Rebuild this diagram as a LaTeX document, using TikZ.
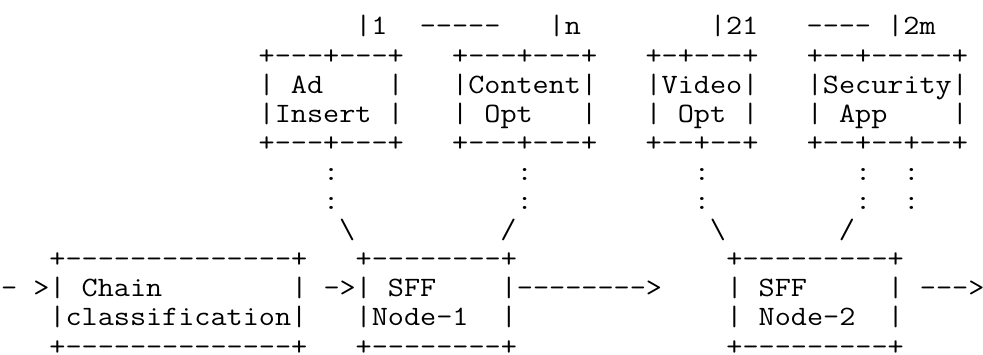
\documentclass[tikz,border=0pt]{standalone}
\usepackage{fontspec}
\usepackage{graphicx}
\usepackage{tikz}
\tikzset{   asciiline/.style = {anchor = base west, inner sep = 0pt, text = black,
                                font = \ttfamily\fontsize{28pt}{29.1pt}\selectfont}}
% widen the typewriter cells to the column pitch
\newcommand{\cells}[1]{\scalebox{1.1179}[1]{#1}}

\begin{document}
\begin{tikzpicture}[x=16.1pt, y=-29.1pt]
  % one unit = one character cell: (column, line)
  \useasboundingbox (-0.056,-0.202) rectangle (61.0,11.963);
  % service functions and their instances
  \node[asciiline] (index)    at (22,1) {\cells{|1~~-----~~~|n~~~~~~~~|21~~~----~|2m}};
  \node[asciiline] (sftop)    at (16,2) {\cells{+---+---+~~~+---+---+~~~+-+---+~~~+--+-----+}};
  \node[asciiline] (sfname)   at (16,3) {\cells{|~Ad~~~~|~~~|Content|~~~|Video|~~~|Security|}};
  \node[asciiline] (sfsub)    at (16,4) {\cells{|Insert~|~~~|~Opt~~~|~~~|~Opt~|~~~|~App~~~~|}};
  \node[asciiline] (sfbottom) at (16,5) {\cells{+---+---+~~~+---+---+~~~+--+--+~~~+--+--+--+}};
  % attachment to the forwarders
  \node[asciiline] (dotsa)    at (20,6) {\cells{:~~~~~~~~~~~:~~~~~~~~~~:~~~~~~~~~:~~:}};
  \node[asciiline] (dotsb)    at (20,7) {\cells{:~~~~~~~~~~~:~~~~~~~~~~:~~~~~~~~~:~~:}};
  \node[asciiline] (links)    at (21,8) {\cells{\textbackslash~~~~~~~~~/~~~~~~~~~~~~\textbackslash~~~~~~~/}};
  % classifier and forwarders
  \node[asciiline] (sfftop)   at (3,9)  {\cells{+--------------+~~~+--------+~~~~~~~~~~~~~+---------+}};
  \node[asciiline] (sffname)  at (0,10) {\cells{-~>|~Chain~~~~~~~~|~->|~SFF~~~~|-------->~~~~|~SFF~~~~~|~--->}};
  \node[asciiline] (sffsub)   at (3,11) {\cells{|classification|~~~|Node-1~~|~~~~~~~~~~~~~|~Node-2~~|}};
  \node[asciiline] (sffbottom) at (3,12) {\cells{+--------------+~~~+--------+~~~~~~~~~~~~~+---------+}};
\end{tikzpicture}
\end{document}
